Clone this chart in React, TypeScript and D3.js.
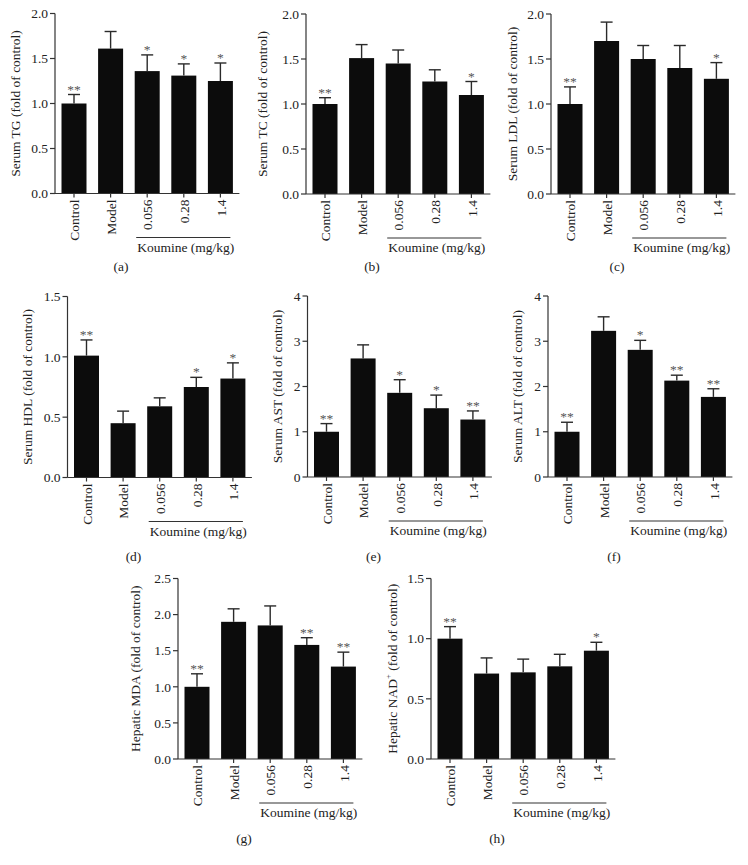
import React from "react";
import * as d3 from "d3";

const categories = ["Control", "Model", "0.056", "0.28", "1.4"];

const tgMean = [1.0, 1.61, 1.36, 1.31, 1.25];
const tgErr = [0.1, 0.19, 0.18, 0.13, 0.2];
const tgSig = ["**", "", "*", "*", "*"];

const tcMean = [1.0, 1.51, 1.45, 1.25, 1.1];
const tcErr = [0.07, 0.15, 0.15, 0.13, 0.15];
const tcSig = ["**", "", "", "", "*"];

const ldlMean = [1.0, 1.7, 1.5, 1.4, 1.28];
const ldlErr = [0.19, 0.21, 0.15, 0.25, 0.18];
const ldlSig = ["**", "", "", "", "*"];

const hdlMean = [1.01, 0.45, 0.59, 0.75, 0.82];
const hdlErr = [0.13, 0.1, 0.07, 0.08, 0.13];
const hdlSig = ["**", "", "", "*", "*"];

const astMean = [1.0, 2.62, 1.86, 1.52, 1.27];
const astErr = [0.18, 0.3, 0.29, 0.29, 0.19];
const astSig = ["**", "", "*", "*", "**"];

const altMean = [1.0, 3.23, 2.81, 2.13, 1.77];
const altErr = [0.21, 0.31, 0.21, 0.12, 0.18];
const altSig = ["**", "", "*", "**", "**"];

const mdaMean = [1.0, 1.9, 1.85, 1.58, 1.28];
const mdaErr = [0.18, 0.18, 0.27, 0.1, 0.2];
const mdaSig = ["**", "", "", "**", "**"];

const nadMean = [1.0, 0.71, 0.72, 0.77, 0.9];
const nadErr = [0.1, 0.13, 0.11, 0.1, 0.07];
const nadSig = ["**", "", "", "", "*"];

const ticks20 = [0, 0.5, 1.0, 1.5, 2.0];
const ticks15 = [0, 0.5, 1.0, 1.5];
const ticks4 = [0, 1, 2, 3, 4];
const ticks25 = [0, 0.5, 1.0, 1.5, 2.0, 2.5];

const groupLabel = "Koumine (mg/kg)";

const FONT = "'Liberation Serif', 'Times New Roman', serif";
const TEXT = "#222";
const AXIS = "#333";

type PanelProps = {
  axisX: number;
  y0: number;
  yTop: number;
  max: number;
  ticks: number[];
  fmt: string;
  mean: number[];
  err: number[];
  sig: string[];
  label: React.ReactNode;
  labelX: number;
  tag: string;
  tagY: number;
};

function Panel(p: PanelProps) {
  const step = 36.6;
  const first = p.axisX + 19;
  const x = d3
    .scalePoint<string>()
    .domain(categories)
    .range([first, first + step * (categories.length - 1)]);
  const y = d3.scaleLinear().domain([0, p.max]).range([p.y0, p.yTop]);
  const fmt = d3.format(p.fmt);
  const barW = 25;
  const capW = 12;
  const axisEnd = first + step * (categories.length - 1) + 19;
  const c2 = x(categories[2])!;
  const c4 = x(categories[4])!;
  const plotMid = (p.y0 + p.yTop) / 2;
  return (
    <g fontFamily={FONT} fontSize={13.5} fill={TEXT}>
      {categories.map((c, i) => (
        <rect
          key={"b" + c}
          x={x(c)! - barW / 2}
          y={y(p.mean[i])}
          width={barW}
          height={p.y0 - y(p.mean[i])}
          fill="#0c0c0c"
        />
      ))}
      {categories.map((c, i) => {
        const cx = x(c)!;
        const top = y(p.mean[i] + p.err[i]);
        return (
          <g key={"e" + c} stroke="#2a2a2a" strokeWidth={1.4}>
            <line x1={cx} x2={cx} y1={y(p.mean[i])} y2={top} />
            <line x1={cx - capW / 2} x2={cx + capW / 2} y1={top} y2={top} />
          </g>
        );
      })}
      {categories.map((c, i) =>
        p.sig[i] ? (
          <text
            key={"s" + c}
            x={x(c)!}
            y={y(p.mean[i] + p.err[i]) - 1}
            textAnchor="middle"
            fill="#555"
            fontSize={13.5}
          >
            {p.sig[i]}
          </text>
        ) : null
      )}
      <line x1={p.axisX} x2={p.axisX} y1={p.yTop} y2={p.y0} stroke={AXIS} strokeWidth={1.2} />
      {p.ticks.map((t) => (
        <g key={"t" + t}>
          <line x1={p.axisX - 5} x2={p.axisX} y1={y(t)} y2={y(t)} stroke={AXIS} strokeWidth={1.2} />
          <text x={p.axisX - 7} y={y(t)} dy="0.35em" textAnchor="end">
            {fmt(t)}
          </text>
        </g>
      ))}
      <line x1={p.axisX} x2={axisEnd} y1={p.y0} y2={p.y0} stroke={AXIS} strokeWidth={1.2} />
      {categories.map((c) => (
        <g key={"x" + c}>
          <line x1={x(c)!} x2={x(c)!} y1={p.y0} y2={p.y0 + 4} stroke={AXIS} strokeWidth={1.2} />
          <text
            transform={`translate(${x(c)! + 0.5},${p.y0 + 6}) rotate(-90)`}
            textAnchor="end"
            dy="0.35em"
          >
            {c}
          </text>
        </g>
      ))}
      <line x1={c2 - 11} x2={c4 + 10} y1={p.y0 + 44} y2={p.y0 + 44} stroke={AXIS} strokeWidth={1.2} />
      <text x={(c2 + c4) / 2 + 2} y={p.y0 + 58} textAnchor="middle">
        {groupLabel}
      </text>
      <text
        transform={`translate(${p.labelX},${plotMid}) rotate(-90)`}
        textAnchor="middle"
        dy="0.35em"
      >
        {p.label}
      </text>
      <text x={p.axisX + 66} y={p.tagY} textAnchor="middle" dy="0.35em">
        {p.tag}
      </text>
    </g>
  );
}

export default function App() {
  return (
    <svg
      width={748}
      height={865}
      style={{ position: "absolute", left: 0, top: 0, background: "#fff" }}
    >
      <rect width={748} height={865} fill="#fff" />
      <Panel axisX={55} y0={193.5} yTop={13.5} max={2} ticks={ticks20} fmt=".1f"
        mean={tgMean} err={tgErr} sig={tgSig} label="Serum TG (fold of control)" labelX={15} tag="(a)" tagY={266} />
      <Panel axisX={306} y0={194} yTop={14} max={2} ticks={ticks20} fmt=".1f"
        mean={tcMean} err={tcErr} sig={tcSig} label="Serum TC (fold of control)" labelX={262} tag="(b)" tagY={266} />
      <Panel axisX={551} y0={194} yTop={14} max={2} ticks={ticks20} fmt=".1f"
        mean={ldlMean} err={ldlErr} sig={ldlSig} label="Serum LDL (fold of control)" labelX={512} tag="(c)" tagY={266} />
      <Panel axisX={67.5} y0={477.5} yTop={296.5} max={1.5} ticks={ticks15} fmt=".1f"
        mean={hdlMean} err={hdlErr} sig={hdlSig} label="Serum HDL (fold of control)" labelX={27} tag="(d)" tagY={556} />
      <Panel axisX={307.5} y0={477} yTop={296} max={4} ticks={ticks4} fmt="d"
        mean={astMean} err={astErr} sig={astSig} label="Serum AST (fold of control)" labelX={277} tag="(e)" tagY={556} />
      <Panel axisX={548} y0={477} yTop={296} max={4} ticks={ticks4} fmt="d"
        mean={altMean} err={altErr} sig={altSig} label="Serum ALT (fold of control)" labelX={517} tag="(f)" tagY={556} />
      <Panel axisX={178} y0={759} yTop={578.5} max={2.5} ticks={ticks25} fmt=".1f"
        mean={mdaMean} err={mdaErr} sig={mdaSig} label="Hepatic MDA (fold of control)" labelX={135} tag="(g)" tagY={838} />
      <Panel axisX={431} y0={759} yTop={578.5} max={1.5} ticks={ticks15} fmt=".1f"
        mean={nadMean} err={nadErr} sig={nadSig}
        label={<>Hepatic NAD<tspan fontSize={8.5} dy="-6">+</tspan><tspan dy="6"> (fold of control)</tspan></>}
        labelX={392} tag="(h)" tagY={838} />
    </svg>
  );
}
